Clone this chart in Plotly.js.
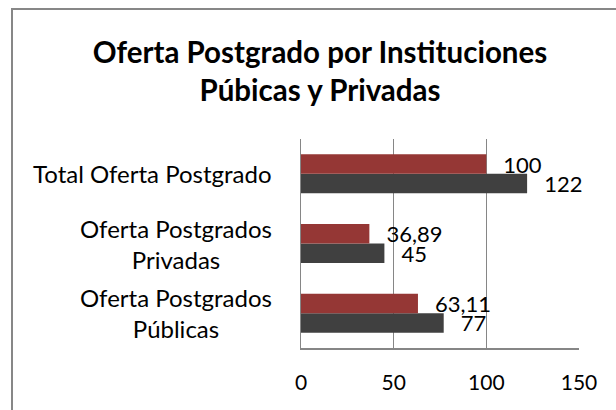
<!DOCTYPE html>
<html>
<head>
<meta charset="utf-8">
<script src="https://cdn.plot.ly/plotly-3.0.1.min.js"></script>
<style>
  html, body { margin: 0; padding: 0; background: #ffffff; overflow: hidden; }
  #frame { position: absolute; left: 11px; top: 8px; width: 700px; height: 500px;
           border-top: 2px solid #878787; border-left: 2px solid #878787; box-sizing: border-box; }
  #chart { position: absolute; left: 0; top: 0; width: 616px; height: 410px; }
</style>
</head>
<body>
<div id="frame"></div>
<div id="chart"></div>
<script>
const categories = ['Oferta Postgrados<br>Públicas', 'Oferta Postgrados<br>Privadas', 'Total Oferta Postgrado'];
const percentValues = [63.11, 36.89, 100];
const countValues = [77, 45, 122];
const xTicks = [0, 50, 100, 150];

const FONT = 'Lato, "Open Sans", sans-serif';
const pad = '\u00a0\u00a0\u2009';

const traces = [
  {
    type: 'bar', orientation: 'h', name: 'Total',
    y: categories, x: countValues,
    marker: { color: '#404040' },
    texttemplate: pad + '%{x}',
    textposition: 'outside', constraintext: 'none', cliponaxis: false,
    textfont: { family: FONT, size: 22, color: '#000000' },
    hoverinfo: 'skip'
  },
  {
    type: 'bar', orientation: 'h', name: '%',
    y: categories, x: percentValues,
    marker: { color: '#953735' },
    texttemplate: pad + '%{x}',
    textposition: 'outside', constraintext: 'none', cliponaxis: false,
    textfont: { family: FONT, size: 22, color: '#000000' },
    hoverinfo: 'skip'
  }
];

const annotations = categories.map(c => ({
  xref: 'paper', yref: 'y', x: 0, y: c, xshift: -27,
  xanchor: 'right', yanchor: 'middle', align: 'center',
  text: c, showarrow: false,
  font: { family: FONT, size: 24, color: '#000000' }
}));

const layout = {
  width: 616, height: 410,
  margin: { l: 301, r: 37, t: 139, b: 62 },
  paper_bgcolor: 'rgba(0,0,0,0)', plot_bgcolor: 'rgba(0,0,0,0)',
  separators: ',.',
  showlegend: false,
  barmode: 'group', bargap: 0.44, bargroupgap: 0,
  title: {
    text: '<b>Oferta Postgrado por Instituciones<br>Púbicas y Privadas</b>',
    font: { family: FONT, size: 29.5, color: '#000000' },
    x: 0.5195, xanchor: 'center', y: 0.847, yanchor: 'top'
  },
  xaxis: {
    range: [0, 150], tickvals: xTicks, ticktext: xTicks.map(String),
    showgrid: true, gridcolor: '#868686', gridwidth: 1.5,
    showline: true, linecolor: '#868686', linewidth: 1.5,
    zeroline: false,
    ticks: 'outside', ticklen: 15, tickcolor: 'rgba(0,0,0,0)',
    tickfont: { family: FONT, size: 21, color: '#000000' },
    fixedrange: true
  },
  yaxis: {
    type: 'category', categoryorder: 'array', categoryarray: categories,
    showticklabels: false, showgrid: false,
    showline: true, linecolor: '#868686', linewidth: 1.5,
    zeroline: false, ticks: '', fixedrange: true
  },
  annotations: annotations
};

Plotly.newPlot('chart', traces, layout, { displayModeBar: false, staticPlot: true });
</script>
</body>
</html>
